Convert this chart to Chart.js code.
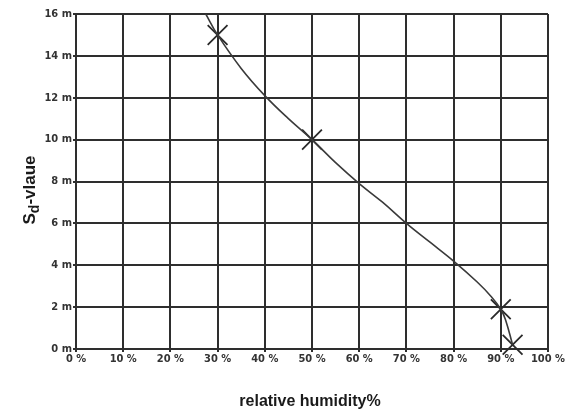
<!DOCTYPE html>
<html>
<head>
<meta charset="utf-8">
<script src="https://cdn.jsdelivr.net/npm/chart.js@4"></script>
<style>
  body { margin: 0; background: #fff; }
  #wrap { width: 566px; height: 416px; }
</style>
</head>
<body>
<div id="wrap"><canvas id="c"></canvas></div>
<script>
// curve (relative humidity %, Sd in m)
const curveRh = [27.5, 30, 35, 40, 45, 50, 55, 60, 65, 70, 75, 80, 85, 88, 90, 91, 92.5];
const curveSd = [16, 15, 13.4, 12.1, 11, 10, 8.9, 7.9, 7, 6, 5.1, 4.2, 3.2, 2.5, 1.9, 1.4, 0.2];
// measured points marked with crosses
const markRh = [30, 50, 90, 92.5];
const markSd = [15, 10, 1.9, 0.2];
const xTicks = [0, 10, 20, 30, 40, 50, 60, 70, 80, 90, 100];
const yTicks = [0, 2, 4, 6, 8, 10, 12, 14, 16];

const tickFont = { family: "'Liberation Sans Narrow', 'DejaVu Sans Condensed', Arial", size: 11, weight: 'bold' };

const axisTitles = {
  id: 'axisTitles',
  afterDraw(chart) {
    const ctx = chart.ctx;
    ctx.save();
    ctx.fillStyle = '#1a1a1a';
    ctx.font = "bold 16px 'Liberation Sans', Arial";
    ctx.textAlign = 'center';
    ctx.textBaseline = 'middle';
    ctx.fillText('relative humidity%', 310, 402);
    // y title with subscript d
    ctx.translate(30, 190);
    ctx.rotate(-Math.PI / 2);
    const big = "bold 17px 'Liberation Sans', Arial";
    const small = "bold 14px 'Liberation Sans', Arial";
    ctx.font = big;
    const w1 = ctx.measureText('S').width;
    const w3 = ctx.measureText('-vlaue').width;
    ctx.font = small;
    const w2 = ctx.measureText('d').width;
    let x = -(w1 + w2 + w3) / 2;
    ctx.textAlign = 'left';
    ctx.font = big;
    ctx.fillText('S', x, 0);
    x += w1;
    ctx.font = small;
    ctx.fillText('d', x, 5);
    x += w2;
    ctx.font = big;
    ctx.fillText('-vlaue', x, 0);
    ctx.restore();
  }
};

new Chart(document.getElementById('c'), {
  type: 'scatter',
  data: {
    datasets: [
      {
        data: curveRh.map((v, i) => ({ x: v, y: curveSd[i] })),
        showLine: true,
        tension: 0.4,
        borderColor: '#3a3a3a',
        borderWidth: 1.6,
        pointRadius: 0
      },
      {
        data: markRh.map((v, i) => ({ x: v, y: markSd[i] })),
        showLine: false,
        clip: false,
        pointStyle: 'crossRot',
        pointRadius: 14,
        borderColor: '#2a2a2a',
        borderWidth: 1.8
      }
    ]
  },
  options: {
    responsive: true,
    maintainAspectRatio: false,
    animation: false,
    layout: { autoPadding: false, padding: { top: 14, right: 17, left: 0, bottom: 0 } },
    plugins: { legend: { display: false }, tooltip: { enabled: false } },
    scales: {
      x: {
        type: 'linear',
        min: 0, max: 100,
        afterBuildTicks: s => { s.ticks = xTicks.map(v => ({ value: v })); },
        afterFit: s => { s.height = 67; },
        grid: { color: '#2e2e2e', lineWidth: 2, tickLength: 3 },
        border: { color: '#2e2e2e', width: 2 },
        ticks: { color: '#333', font: tickFont, maxRotation: 0, padding: 1, callback: v => v + ' %' }
      },
      y: {
        type: 'linear',
        min: 0, max: 16,
        afterBuildTicks: s => { s.ticks = yTicks.map(v => ({ value: v })); },
        afterFit: s => { s.width = 76; },
        grid: { color: '#2e2e2e', lineWidth: 2, tickLength: 3 },
        border: { color: '#2e2e2e', width: 2 },
        ticks: { color: '#333', font: tickFont, padding: 1, callback: v => v + ' m' }
      }
    }
  },
  plugins: [axisTitles]
});
</script>
</body>
</html>
